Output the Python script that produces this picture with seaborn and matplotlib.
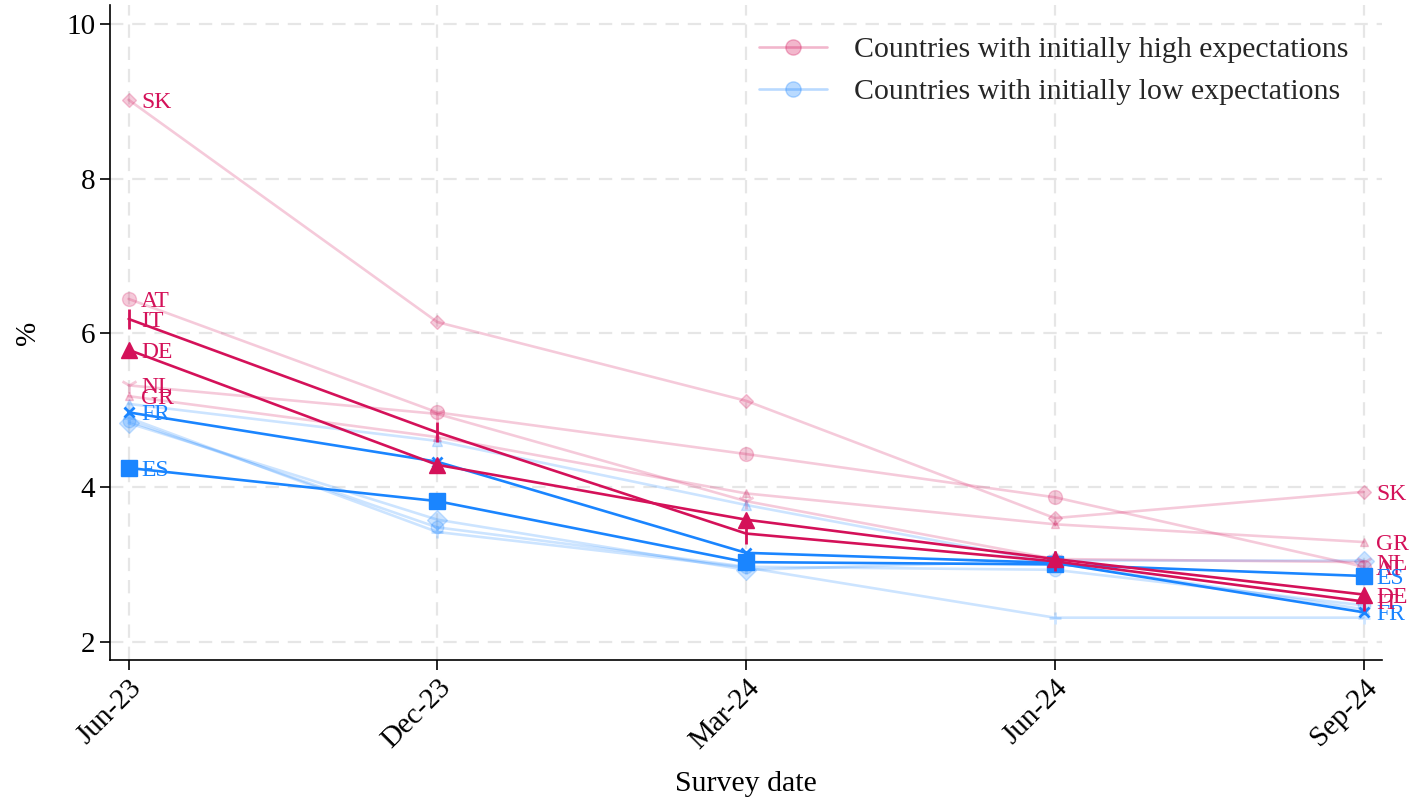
import matplotlib
matplotlib.use("Agg")
import matplotlib.pyplot as plt
from matplotlib.lines import Line2D
import seaborn as sns
import pandas as pd

# ===================== data =====================
dates = ["Jun-23", "Dec-23", "Mar-24", "Jun-24", "Sep-24"]

# countries with initially high expectations
SK = [9.02, 6.14, 5.12, 3.60, 3.94]
AT = [6.44, 4.97, 4.43, 3.87, 2.97]
IT = [6.18, 4.71, 3.40, 3.04, 2.52]
DE = [5.78, 4.29, 3.58, 3.07, 2.61]
NL = [5.32, 4.95, 3.82, 3.07, 3.03]
GR = [5.18, 4.65, 3.92, 3.52, 3.29]

# countries with initially low expectations
FR = [4.97, 4.33, 3.15, 3.02, 2.38]
ES = [4.25, 3.82, 3.03, 3.00, 2.85]
LOW_1 = [5.08, 4.60, 3.77, 3.02, 2.42]
LOW_2 = [4.83, 3.58, 2.93, 3.05, 3.05]
LOW_3 = [4.86, 3.48, 2.97, 2.93, 2.47]
LOW_4 = [4.90, 3.42, 2.96, 2.31, 2.31]

RED = "#d41159"
BLUE = "#1a85ff"

# (name, values, colour, marker, size, highlighted, labelled)
series = [
    ("LOW_1", LOW_1, BLUE, "^", 7, False, False),
    ("LOW_2", LOW_2, BLUE, "D", 10, False, False),
    ("LOW_3", LOW_3, BLUE, "o", 9, False, False),
    ("LOW_4", LOW_4, BLUE, "+", 9, False, False),
    ("SK", SK, RED, "D", 7, False, True),
    ("AT", AT, RED, "o", 10, False, True),
    ("NL", NL, RED, "1", 12, False, True),
    ("GR", GR, RED, "^", 6, False, True),
    ("FR", FR, BLUE, "x", 7, True, True),
    ("ES", ES, BLUE, "s", 11, True, True),
    ("IT", IT, RED, "|", 14, True, True),
    ("DE", DE, RED, "^", 12, True, True),
]

rows = []
for name, vals, *_ in series:
    for d, v in zip(dates, vals):
        rows.append({"country": name, "date": d, "value": v})
df = pd.DataFrame(rows)

# ===================== plot =====================
sns.set_style("white")
plt.rcParams["font.family"] = ["Liberation Serif", "DejaVu Serif"]

fig = plt.figure(figsize=(14.11, 8.07), dpi=100)
ax = fig.add_axes([0.078, 0.182, 0.9015, 0.812])

for name, vals, col, mk, ms, hi, lab in series:
    sub = df[df["country"] == name]
    a = 1.0 if hi else 0.22
    sns.lineplot(data=sub, x="date", y="value", ax=ax, color=col, alpha=a,
                 lw=1.9, marker=mk, markersize=ms, markeredgecolor=col,
                 markerfacecolor=col, markeredgewidth=2 if mk in ("x", "+", "|", "1") else 1,
                 legend=False, zorder=3 if hi else 2)
    if lab:
        ax.text(0 + 0.04, vals[0], name, color=col, fontsize=17,
                va="center_baseline", ha="left", zorder=5)
        ax.text(len(dates) - 1 + 0.04, vals[-1], name, color=col, fontsize=17,
                va="center_baseline", ha="left", zorder=5)

ax.set_xlim(-0.06, len(dates) - 1 + 0.06)
ax.set_ylim(1.76, 10.25)
ax.set_yticks([2, 4, 6, 8, 10])
ax.set_xticks(range(len(dates)))
ax.set_xticklabels(dates, rotation=45, ha="right", rotation_mode="anchor")
ax.tick_params(axis="both", labelsize=21, length=7, width=1.2, color="black",
               labelcolor="black", direction="out", left=True, bottom=True)
ax.set_xlabel("Survey date", fontsize=21.5, labelpad=12, color="black")
ax.set_ylabel("%", fontsize=21, labelpad=18, color="black")

ax.grid(True, color="#e6e6e6", linestyle=(0, (6, 4)), lw=1.6)
ax.set_axisbelow(True)
for s in ["top", "right"]:
    ax.spines[s].set_visible(False)
for s in ["left", "bottom"]:
    ax.spines[s].set_color("black")
    ax.spines[s].set_linewidth(1.2)

handles = [
    Line2D([], [], color=RED, alpha=0.3, lw=1.9, marker="o", markersize=11),
    Line2D([], [], color=BLUE, alpha=0.3, lw=1.9, marker="o", markersize=11),
]
ax.legend(handles, ["Countries with initially high expectations",
                    "Countries with initially low expectations"],
          loc="upper right", frameon=False, fontsize=21.5, handlelength=2.3,
          handletextpad=0.9, labelspacing=0.5, bbox_to_anchor=(0.995, 0.993))

fig.savefig("out.png", dpi=100)
